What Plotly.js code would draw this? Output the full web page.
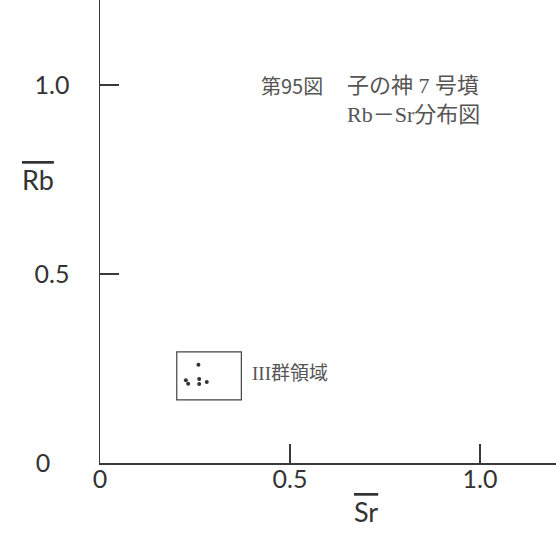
<!DOCTYPE html>
<html>
<head>
<meta charset="utf-8">
<script src="https://cdn.plot.ly/plotly-3.0.1.min.js"></script>
<style>html,body{margin:0;padding:0;background:#fff;}#chart{width:556px;height:533px;}</style>
</head>
<body>
<div id="chart"></div>
<script>
// Data (Sr vs Rb, normalized)
const srValues = [0.259, 0.226, 0.232, 0.261, 0.261, 0.281];
const rbValues = [0.260, 0.219, 0.210, 0.222, 0.209, 0.214];
const tickValues = [0, 0.5, 1.0];
const xTickLabels = ["0", "0.5", "1.0"];
const yTickLabels = ["0\u00a0\u00a0\u00a0", "0.5", "1.0"];
const regionBox = {x0: 0.202, x1: 0.372, y0: 0.167, y1: 0.294};
const regionLabel = "III群領域";
const titleLine1a = "第95図";
const titleLine1b = "子の神 7 号墳";
const titleLine2 = "Rb－Sr分布図";

const axisColor = "#3a3a3a";
const tickFont = {family: "Lato, 'Noto Sans', sans-serif", size: 25, color: "#333"};
const serifFont = {family: "'Liberation Serif', 'Noto Sans CJK JP', serif", size: 22, color: "#555"};

const trace = {
  x: srValues, y: rbValues, type: "scatter", mode: "markers",
  marker: {size: 4, color: "#333"}, hoverinfo: "skip", showlegend: false
};

const layout = {
  width: 556, height: 533,
  margin: {l: 100, r: 0, t: 0, b: 70},
  paper_bgcolor: "#fff", plot_bgcolor: "#fff",
  xaxis: {
    range: [0, 1.2], tickvals: tickValues, ticktext: xTickLabels,
    ticks: "inside", ticklen: 19, tickwidth: 1.5, tickcolor: axisColor,
    showline: true, linewidth: 1.5, linecolor: axisColor,
    showgrid: false, zeroline: false, tickfont: tickFont, ticklabelstandoff: -7
  },
  yaxis: {
    range: [0, 1.225], tickvals: tickValues, ticktext: yTickLabels,
    ticks: "inside", ticklen: 19, tickwidth: 1.5, tickcolor: axisColor,
    showline: true, linewidth: 1.5, linecolor: axisColor,
    showgrid: false, zeroline: false, tickfont: tickFont, ticklabelstandoff: 24
  },
  shapes: [
    {type: "rect", xref: "x", yref: "y", x0: regionBox.x0, x1: regionBox.x1, y0: regionBox.y0, y1: regionBox.y1,
     line: {color: "#444", width: 1.2}}
  ],
  annotations: [
    {xref: "x", yref: "y", x: 0.418, y: 1.0, text: titleLine1a, showarrow: false, xanchor: "left", yanchor: "middle",
     font: {family: "'Noto Sans CJK JP', sans-serif", size: 20, color: "#555"}},
    {xref: "x", yref: "y", x: 0.645, y: 1.0, text: titleLine1b, showarrow: false, xanchor: "left", yanchor: "middle", font: serifFont},
    {xref: "x", yref: "y", x: 0.645, y: 0.921, text: titleLine2, showarrow: false, xanchor: "left", yanchor: "middle", font: serifFont},
    {xref: "x", yref: "y", x: 0.395, y: 0.238, text: regionLabel, showarrow: false, xanchor: "left", yanchor: "middle",
     font: {family: "'Liberation Serif', 'Noto Sans CJK JP', serif", size: 19, color: "#555"}},
    {xref: "paper", yref: "y", x: -0.137, y: 0.75, text: '<span style="text-decoration:overline">Rb</span>', showarrow: false,
     xanchor: "center", yanchor: "middle", font: {family: "Lato, 'Noto Sans', sans-serif", size: 27, color: "#333"}},
    {xref: "x", yref: "paper", x: 0.7, y: -0.104, text: '<span style="text-decoration:overline">Sr</span>', showarrow: false,
     xanchor: "center", yanchor: "middle", font: {family: "Lato, 'Noto Sans', sans-serif", size: 27, color: "#333"}}
  ]
};

Plotly.newPlot("chart", [trace], layout, {displayModeBar: false, staticPlot: true});
</script>
</body>
</html>
